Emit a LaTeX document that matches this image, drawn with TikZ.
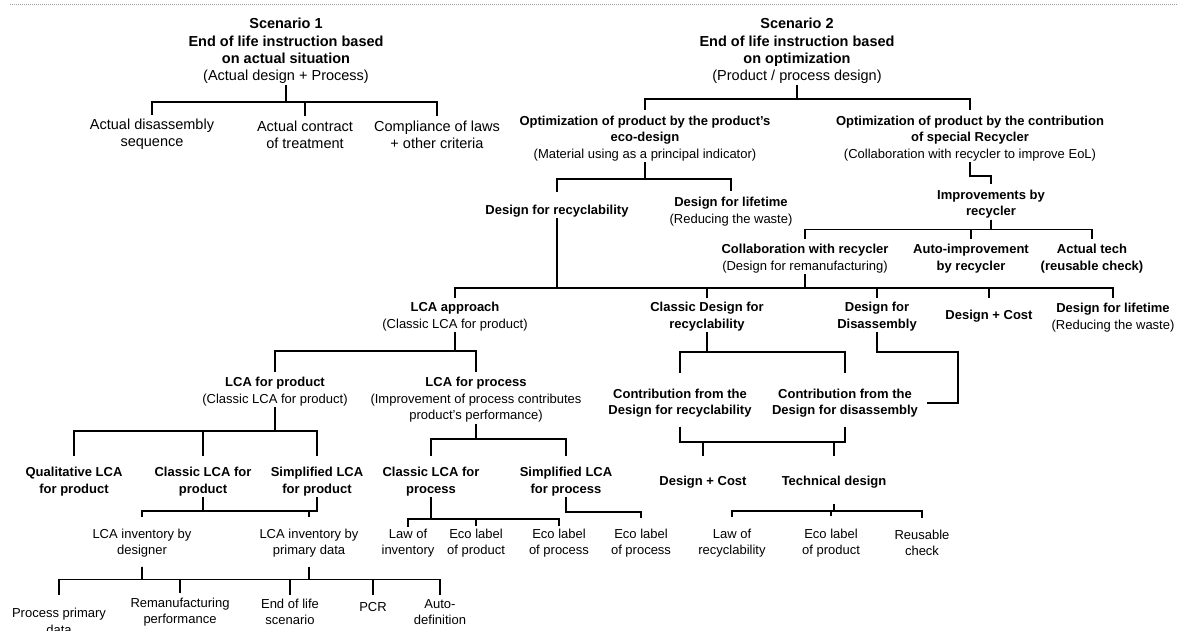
\documentclass[tikz,border=0pt]{standalone}
\usepackage{fontspec}
\setmainfont{Liberation Sans}

\begin{document}
\begin{tikzpicture}[
  x=1pt, y=-1pt,
  hd/.style={font=\fontsize{14.5}{17.3}\selectfont, align=center, inner sep=1pt},
  lbl/.style={font=\fontsize{13}{16.5}\selectfont, align=center, inner sep=1pt},
  key/.style={lbl, font=\fontsize{13}{16.5}\selectfont\bfseries},
  br/.style={draw=black, line width=1.9pt},
  rule/.style={draw=gray!75, line width=1pt, dash pattern=on 1pt off 1pt},
]
\useasboundingbox (0,0) rectangle (1177,631);
\draw[rule] (10,4.5) -- (1177,4.5);

% scenario 1
\node[hd] (sc1) at (286,51) {\textbf{Scenario 1}\\\textbf{End of life instruction based}\\\textbf{on actual situation}\\(Actual design + Process)};
\node[hd] (seq) at (152,134.5) {Actual disassembly\\sequence};
\node[hd] (ctr) at (305,134.5) {Actual contract\\of treatment};
\node[hd] (cmp) at (437,134.5) {Compliance of laws\\+ other criteria};
\draw[br] (sc1.south) -- ++(0,17) -| ([yshift=3pt]seq.north);
\draw[br] (sc1.south) -- ++(0,17) -| ([yshift=3pt]ctr.north);
\draw[br] (sc1.south) -- ++(0,17) -| ([yshift=3pt]cmp.north);

% scenario 2
\node[hd] (sc2) at (797,51) {\textbf{Scenario 2}\\\textbf{End of life instruction based}\\\textbf{on optimization}\\(Product / process design)};
\node[lbl] (opa) at (645,138.5) {\textbf{Optimization of product by the product's}\\\textbf{eco-design}\\(Material using as a principal indicator)};
\node[lbl] (opb) at (970,138.5) {\textbf{Optimization of product by the contribution}\\\textbf{of special Recycler}\\(Collaboration with recycler to improve EoL)};
\draw[br] (sc2.south) -- ++(0,14) -| ([yshift=5pt]opa.north);
\draw[br] (sc2.south) -- ++(0,14) -| ([yshift=5pt]opb.north);

\node[key] (dfr) at (557,211) {Design for recyclability};
\node[lbl] (dfl) at (731,211.5) {\textbf{Design for lifetime}\\(Reducing the waste)};
\draw[br] (opa.south) -- ++(0,16.5) -| ([yshift=12pt]dfr.north);
\draw[br] (opa.south) -- ++(0,16.5) -| ([yshift=5pt]dfl.north);

\node[key] (imp) at (991,204) {Improvements by\\recycler};
\draw[br] (opb.south) -- ++(0,13.5) -| ([yshift=4pt]imp.north);

\node[lbl] (col) at (805,258.5) {\textbf{Collaboration with recycler}\\(Design for remanufacturing)};
\node[key] (aut) at (971,258.5) {Auto-improvement\\by recycler};
\node[key] (act) at (1092,258.5) {Actual tech\\(reusable check)};
\draw[br] (imp.south) -- ++(0,10) -| ([yshift=4pt]col.north);
\draw[br] (imp.south) -- ++(0,10) -| ([yshift=4pt]aut.north);
\draw[br] (imp.south) -- ++(0,10) -| ([yshift=4pt]act.north);

% trunk
\node[lbl] (lca) at (455,316.5) {\textbf{LCA approach}\\(Classic LCA for product)};
\node[key] (cdr) at (707,316.5) {Classic Design for\\recyclability};
\node[key] (dfd) at (877,316.5) {Design for\\Disassembly};
\node[key] (dco) at (989,316) {Design + Cost};
\node[lbl] (dlt) at (1113,317.5) {\textbf{Design for lifetime}\\(Reducing the waste)};
\draw[br] (dfr.south) -- ++(0,70) -| ([yshift=3pt]lca.north);
\draw[br] (dfr.south) -- ++(0,70) -| ([yshift=3pt]cdr.north);
\draw[br] (dfr.south) -- ++(0,70) -| ([yshift=3pt]dfd.north);
\draw[br] (col.south) -- ++(0,13.6) -| ([yshift=11pt]dco.north);
\draw[br] (col.south) -- ++(0,13.6) -| ([yshift=4pt]dlt.north);

% LCA branch
\node[lbl] (lpd) at (275,391.5) {\textbf{LCA for product}\\(Classic LCA for product)};
\node[lbl] (lps) at (476,400) {\textbf{LCA for process}\\(Improvement of process contributes\\product's performance)};
\draw[br] (lca.south) -- ++(0,19) -| ([yshift=4pt]lpd.north);
\draw[br] (lca.south) -- ++(0,19) -| ([yshift=4pt]lps.north);

\node[key] (qlp) at (74,481.5) {Qualitative LCA\\for product};
\node[key] (clp) at (203,481.5) {Classic LCA for\\product};
\node[key] (slp) at (317,481.5) {Simplified LCA\\for product};
\node[key] (cls) at (431,481.5) {Classic LCA for\\process};
\node[key] (sls) at (566,481.5) {Simplified LCA\\for process};
\draw[br] (lpd.south) -- ++(0,23.6) -| ([yshift=10pt]qlp.north);
\draw[br] (lpd.south) -- ++(0,23.6) -| ([yshift=10pt]clp.north);
\draw[br] (lpd.south) -- ++(0,23.6) -| ([yshift=10pt]slp.north);
\draw[br] (lps.south) -- ++(0,15.6) -| ([yshift=10pt]cls.north);
\draw[br] (lps.south) -- ++(0,15.6) -| ([yshift=10pt]sls.north);

\node[lbl] (ivd) at (142,543) {LCA inventory by\\designer};
\node[lbl] (ivp) at (309,543) {LCA inventory by\\primary data};
\draw[br] (clp.south) -- ++(0,13.6) -| ([yshift=10pt]ivd.north);
\draw[br] (clp.south) -- ++(0,13.6) -| ([yshift=10pt]ivp.north);
\draw[br] (slp.south) -- ++(0,13.6) -| ([yshift=10pt]ivp.north);

\node[lbl] (lwi) at (408,543) {Law of\\inventory};
\node[lbl] (epa) at (476,543) {Eco label\\of product};
\node[lbl] (esa) at (559,543) {Eco label\\of process};
\node[lbl] (esb) at (641,543) {Eco label\\of process};
\draw[br] (cls.south) -- ++(0,21.6) -| ([yshift=1pt]lwi.north);
\draw[br] (cls.south) -- ++(0,21.6) -| ([yshift=1pt]epa.north);
\draw[br] (cls.south) -- ++(0,21.6) -| ([yshift=1pt]esa.north);
\draw[br] (sls.south) -- ++(0,14.6) -| ([yshift=9pt]esb.north);

\node[lbl] (ppd) at (59,621.5) {Process primary\\data};
\node[lbl] (rem) at (180,612) {Remanufacturing\\performance};
\node[lbl] (eol) at (290,612) {End of life\\scenario};
\node[lbl] (pcr) at (373,607) {PCR};
\node[lbl] (adf) at (440,612) {Auto-\\definition};
\draw[br] ([yshift=-8pt]ivd.south) -- ++(0,13) -| ([yshift=12pt]ppd.north);
\draw[br] ([yshift=-8pt]ivd.south) -- ++(0,13) -| ([yshift=3pt]rem.north);
\draw[br] ([yshift=-8pt]ivd.south) -- ++(0,13) -| ([yshift=3pt]eol.north);
\draw[br] ([yshift=-8pt]ivd.south) -- ++(0,13) -| ([yshift=6pt]pcr.north);
\draw[br] ([yshift=-8pt]ivd.south) -- ++(0,13) -| ([yshift=3pt]adf.north);
\draw[br] ([yshift=-8pt]ivp.south) -- ++(0,13) -| ([yshift=3pt]eol.north);

% design branch
\node[key] (cfr) at (680,403) {Contribution from the\\Design for recyclability};
\node[key] (cfd) at (845,403) {Contribution from the\\Design for disassembly};
\draw[br] (cdr.south) -- ++(0,19.6) -| ([yshift=14pt]cfr.north);
\draw[br] (cdr.south) -- ++(0,19.6) -| ([yshift=14pt]cfd.north);
\draw[br] (dfd.south) -- ++(0,19.6) -- ++(81,0) |- ([xshift=8pt]cfd.east);

\node[key] (dc2) at (703,482) {Design + Cost};
\node[key] (tds) at (834,482) {Technical design};
\draw[br] ([yshift=-8pt]cfr.south) -- ++(0,15.6) -| ([yshift=-8pt]cfd.south);
\draw[br] ([yshift=-8pt]cfr.south) -- ++(0,15.6) -| ([yshift=19pt]dc2.north);
\draw[br] ([yshift=-8pt]cfd.south) -- ++(0,15.6) -| ([yshift=19pt]tds.north);

\node[lbl] (lwr) at (732,543) {Law of\\recyclability};
\node[lbl] (epb) at (831,543) {Eco label\\of product};
\node[lbl] (reu) at (922,543) {Reusable\\check};
\draw[br] ([yshift=-14.6pt]tds.south) -- ++(0,7) -| ([yshift=11pt]lwr.north);
\draw[br] ([yshift=-14.6pt]tds.south) -- ++(0,7) -| ([yshift=11pt]epb.north);
\draw[br] ([yshift=-14.6pt]tds.south) -- ++(0,7) -| ([yshift=11pt]reu.north);
\end{tikzpicture}
\end{document}
